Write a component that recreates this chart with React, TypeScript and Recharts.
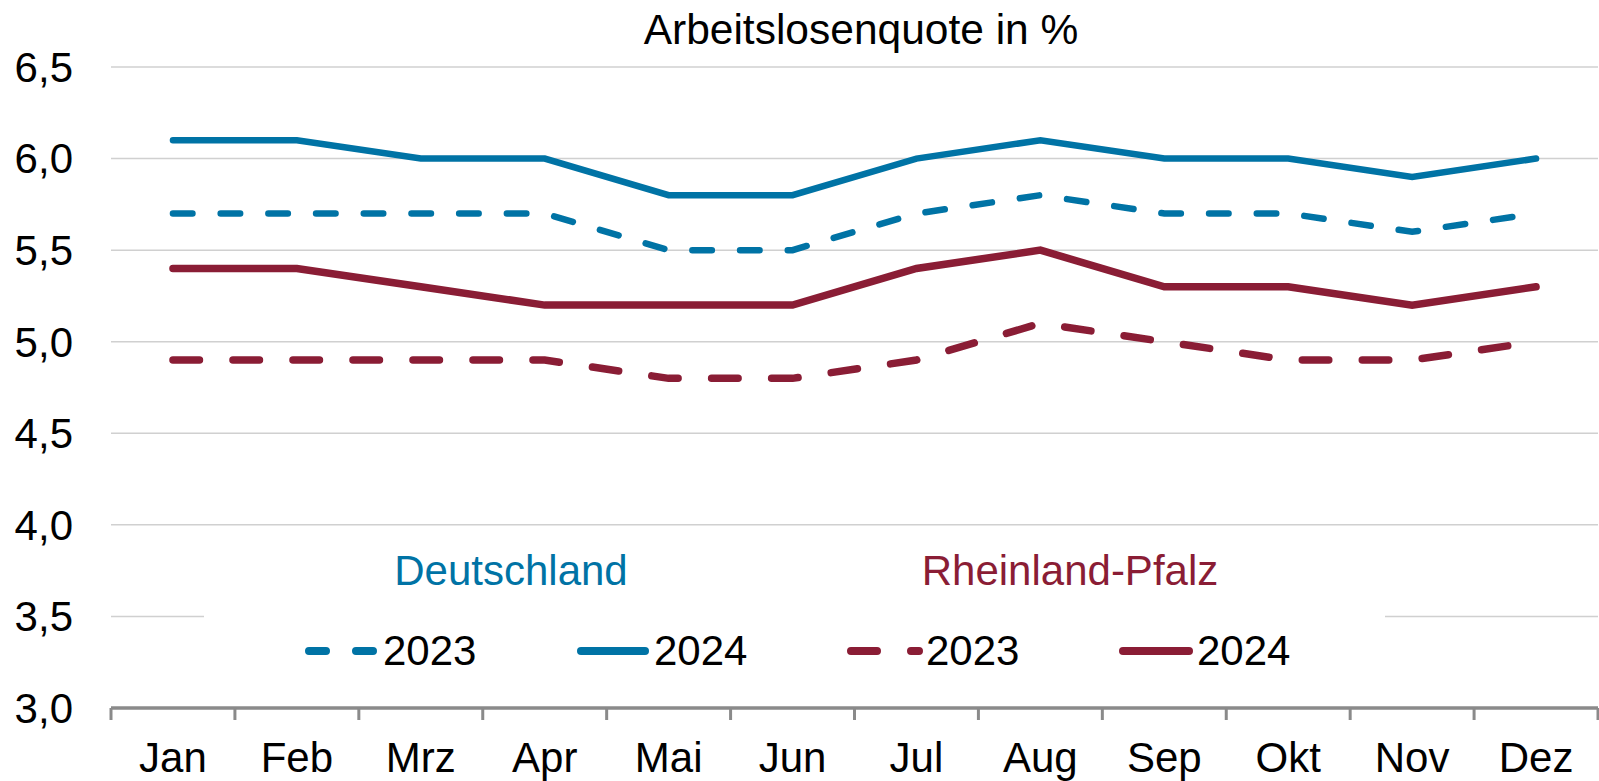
import React from 'react';
import { LineChart, Line, XAxis, YAxis, CartesianGrid, Customized } from 'recharts';

const months = ['Jan', 'Feb', 'Mrz', 'Apr', 'Mai', 'Jun', 'Jul', 'Aug', 'Sep', 'Okt', 'Nov', 'Dez'];
const de2023 = [5.7, 5.7, 5.7, 5.7, 5.5, 5.5, 5.7, 5.8, 5.7, 5.7, 5.6, 5.7];
const de2024 = [6.1, 6.1, 6.0, 6.0, 5.8, 5.8, 6.0, 6.1, 6.0, 6.0, 5.9, 6.0];
const rp2023 = [4.9, 4.9, 4.9, 4.9, 4.8, 4.8, 4.9, 5.1, 5.0, 4.9, 4.9, 5.0];
const rp2024 = [5.4, 5.4, 5.3, 5.2, 5.2, 5.2, 5.4, 5.5, 5.3, 5.3, 5.2, 5.3];
const yTicks = [3.0, 3.5, 4.0, 4.5, 5.0, 5.5, 6.0, 6.5];
const title = 'Arbeitslosenquote in %';
const groupLabels = ['Deutschland', 'Rheinland-Pfalz'];
const yearLabels = ['2023', '2024'];

const BLUE = '#0073a5';
const RED = '#8a1d35';
const AXIS = '#8a8a8a';
const FONT = '"Liberation Sans", Arial, sans-serif';

const data = months.map((m, i) => ({
  month: m,
  de2023: de2023[i],
  de2024: de2024[i],
  rp2023: rp2023[i],
  rp2024: rp2024[i],
}));

const legendItems = [
  { color: BLUE, x1: 309, x2: 373, tx: 383, dash: '17 30' },
  { color: BLUE, x1: 581, x2: 645, tx: 654 },
  { color: RED, x1: 851, x2: 919, tx: 926, dash: '26 34' },
  { color: RED, x1: 1123, x2: 1189, tx: 1197 },
];

const Overlay = () => (
  <g>
    <text x={861} y={44} textAnchor="middle" fontSize={42.5} fontFamily={FONT} fill="#000">
      {title}
    </text>
    <rect x={204} y={532} width={1181} height={166} fill="#fff" />
    <text x={511} y={585} textAnchor="middle" fontSize={42} fontFamily={FONT} fill={BLUE}>
      {groupLabels[0]}
    </text>
    <text x={1070} y={585} textAnchor="middle" fontSize={42} fontFamily={FONT} fill={RED}>
      {groupLabels[1]}
    </text>
    {legendItems.map((it, i) => (
      <g key={i}>
        <line
          x1={it.x1}
          x2={it.x2}
          y1={651}
          y2={651}
          stroke={it.color}
          strokeWidth={8}
          strokeLinecap="round"
          strokeDasharray={it.dash}
        />
        <text x={it.tx} y={665} fontSize={42} fontFamily={FONT} fill="#000">
          {yearLabels[i % 2]}
        </text>
      </g>
    ))}
  </g>
);

const XTick = (props: any) => {
  const { x, y, payload, index, visibleTicksCount } = props;
  const half = payload && typeof payload.offset === 'number' && payload.offset > 0 ? payload.offset : 62;
  const last = index === visibleTicksCount - 1;
  return (
    <g>
      <line x1={x - half} x2={x - half} y1={y} y2={y + 12} stroke={AXIS} strokeWidth={3} />
      {last && <line x1={x + half} x2={x + half} y1={y} y2={y + 12} stroke={AXIS} strokeWidth={3} />}
      <text x={x} y={y + 34} dy="0.71em" textAnchor="middle" fontSize={42} fontFamily={FONT} fill="#000">
        {payload.value}
      </text>
    </g>
  );
};

export default function App() {
  return (
    <div style={{ position: 'absolute', left: 0, top: 0, background: '#fff' }}>
      <LineChart width={1599} height={781} data={data} margin={{ top: 67, right: 1, bottom: 0, left: 0 }}>
        <CartesianGrid vertical={false} stroke="#d0d0d0" strokeWidth={1.5} />
        <XAxis
          dataKey="month"
          type="category"
          scale="band"
          interval={0}
          axisLine={{ stroke: AXIS, strokeWidth: 3.5 }}
          tickLine={false}
          tickSize={0}
          tickMargin={0}
          height={73}
          tick={<XTick />}
        />
        <YAxis
          domain={[3, 6.5]}
          ticks={yTicks}
          interval={0}
          axisLine={false}
          tickLine={false}
          tickSize={0}
          tickMargin={38}
          width={111}
          tickFormatter={(v: number) => v.toFixed(1).replace('.', ',')}
          tick={{ fontSize: 42, fontFamily: FONT, fill: '#000' }}
        />
        <Customized component={Overlay} />
        <Line dataKey="de2023" stroke={BLUE} strokeWidth={6.5} strokeDasharray="19.5 28.2" strokeLinecap="round" dot={false} isAnimationActive={false} />
        <Line dataKey="de2024" stroke={BLUE} strokeWidth={6.5} strokeLinecap="round" dot={false} isAnimationActive={false} />
        <Line dataKey="rp2023" stroke={RED} strokeWidth={7.5} strokeDasharray="26.5 33.5" strokeLinecap="round" dot={false} isAnimationActive={false} />
        <Line dataKey="rp2024" stroke={RED} strokeWidth={7.5} strokeLinecap="round" dot={false} isAnimationActive={false} />
      </LineChart>
    </div>
  );
}
